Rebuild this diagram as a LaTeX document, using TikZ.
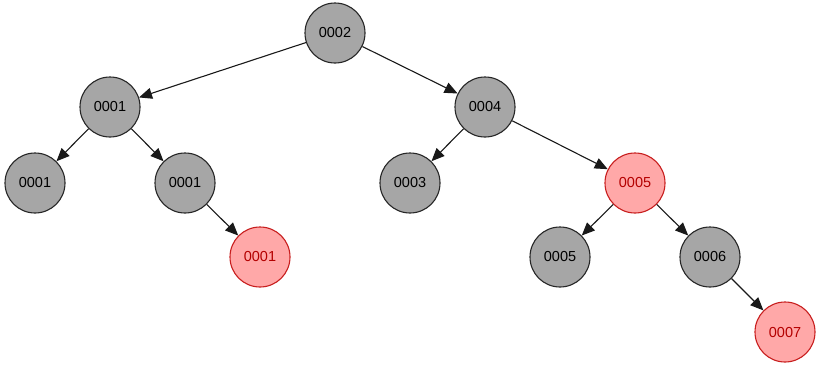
\documentclass[tikz,border=0pt]{standalone}
\usepackage{fontspec}
\setmainfont{Liberation Sans}
\usetikzlibrary{arrows.meta}
\definecolor{nodegray}{HTML}{A6A6A6}
\definecolor{nodered}{HTML}{FFA8A8}
\definecolor{redline}{HTML}{C81E1E}
\definecolor{redtext}{HTML}{B40000}
\begin{document}
\begin{tikzpicture}[x=1pt,y=-1pt,
  bnode/.style={circle,draw=black!85,line width=1.1pt,fill=nodegray,minimum size=60pt,inner sep=0pt,font=\fontsize{14.5}{17}\selectfont},
  rnode/.style={bnode,draw=redline,fill=nodered,text=redtext},
  edge/.style={draw=black!90,line width=1.1pt,-{Triangle[length=13pt,width=11pt]}}]
\useasboundingbox (0,0) rectangle (819,365);
\node[bnode] (n2) at (335,33) {0002};
\node[bnode] (n1) at (110,107) {0001};
\node[bnode] (n4) at (485,107) {0004};
\node[bnode] (a1) at (35,183) {0001};
\node[bnode] (b1) at (185,183) {0001};
\node[bnode] (n3) at (410,183) {0003};
\node[rnode] (r5) at (635,183) {0005};
\node[rnode] (r1) at (260,257) {0001};
\node[bnode] (n5) at (560,257) {0005};
\node[bnode] (n6) at (710,257) {0006};
\node[rnode] (r7) at (785,332) {0007};
\draw[edge] (n2) -- (n1);
\draw[edge] (n2) -- (n4);
\draw[edge] (n1) -- (a1);
\draw[edge] (n1) -- (b1);
\draw[edge] (b1) -- (r1);
\draw[edge] (n4) -- (n3);
\draw[edge] (n4) -- (r5);
\draw[edge] (r5) -- (n5);
\draw[edge] (r5) -- (n6);
\draw[edge] (n6) -- (r7);
\end{tikzpicture}
\end{document}
